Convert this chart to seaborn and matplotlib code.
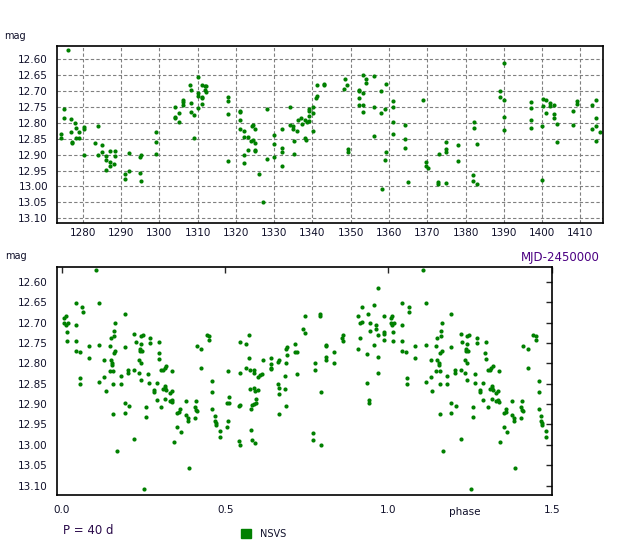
import matplotlib
matplotlib.use('Agg')
import matplotlib.pyplot as plt
import pandas as pd
import seaborn as sns
from matplotlib.patches import Patch
from matplotlib.ticker import MultipleLocator, FormatStrFormatter

# Light curve (MJD-2450000 vs mag)
mjd = [1276.2, 1275.2, 1275.2, 1274.3, 1274.3, 1277.0, 1278.0, 1278.3, 1277.0, 1277.2, 1277.3, 1278.3, 1279.0, 1279.0,
       1280.2, 1280.2, 1280.2, 1284.0, 1283.2, 1284.0, 1285.1, 1285.1, 1286.2, 1286.2, 1287.1, 1288.3, 1288.3, 1287.1,
       1287.1, 1286.2, 1288.2, 1292.2, 1291.0, 1291.0, 1292.2, 1295.2, 1295.0, 1295.0, 1295.3, 1299.2, 1299.2, 1299.1,
       1304.2, 1304.2, 1304.2, 1305.2, 1305.1, 1306.2, 1306.1, 1306.1, 1308.1, 1308.3, 1308.3, 1308.2, 1309.0, 1309.0,
       1310.1, 1311.1, 1312.0, 1312.2, 1312.0, 1312.2, 1310.1, 1310.1, 1311.1, 1311.2, 1311.2, 1310.1, 1317.9, 1317.9,
       1317.9, 1317.9, 1321.0, 1321.0, 1321.0, 1321.1, 1322.2, 1322.1, 1323.1, 1324.1, 1324.4, 1325.0, 1324.0, 1324.4,
       1325.0, 1323.1, 1325.0, 1325.0, 1322.2, 1322.2, 1326.0, 1328.2, 1328.2, 1330.0, 1330.0, 1330.0, 1327.1, 1332.1,
       1332.1, 1332.1, 1332.0, 1334.2, 1334.2, 1335.0, 1335.0, 1335.9, 1335.2, 1335.2, 1336.3, 1337.0, 1337.2, 1338.1,
       1338.5, 1339.1, 1339.1, 1339.1, 1339.1, 1338.1, 1338.3, 1340.2, 1340.2, 1340.2, 1341.1, 1340.9, 1341.2, 1343.0,
       1343.1, 1348.4, 1348.3, 1349.1, 1349.3, 1349.3, 1353.2, 1354.0, 1354.0, 1352.2, 1352.2, 1353.2, 1352.2, 1352.2,
       1353.2, 1353.2, 1356.1, 1357.9, 1359.2, 1356.1, 1357.9, 1358.9, 1356.1, 1359.2, 1358.9, 1358.1, 1361.0, 1361.0,
       1361.0, 1361.0, 1364.1, 1364.1, 1364.1, 1364.9, 1369.0, 1369.8, 1369.8, 1370.1, 1373.0, 1372.9, 1372.9, 1375.0,
       1375.0, 1375.0, 1375.0, 1377.9, 1377.9, 1382.3, 1382.3, 1383.0, 1382.0, 1382.0, 1383.0, 1390.1, 1389.0, 1389.0,
       1390.1, 1390.1, 1390.1, 1397.1, 1397.1, 1397.1, 1397.1, 1400.3, 1401.0, 1400.3, 1402.1, 1402.1, 1403.1, 1401.0,
       1403.1, 1403.1, 1403.9, 1400.0, 1403.9, 1400.0, 1408.1, 1408.1, 1409.1, 1409.1, 1414.1, 1413.0, 1414.1, 1414.1,
       1413.0, 1415.1, 1414.1]
mjd_mag = [12.571, 12.755, 12.783, 12.834, 12.847, 12.788, 12.800, 12.815, 12.830, 12.861, 12.864, 12.847, 12.827, 12.847,
           12.812, 12.819, 12.901, 12.811, 12.862, 12.902, 12.868, 12.890, 12.905, 12.917, 12.887, 12.887, 12.903, 12.923,
           12.936, 12.949, 12.930, 12.894, 12.961, 12.977, 12.952, 12.900, 12.908, 12.958, 12.983, 12.828, 12.859, 12.899,
           12.751, 12.782, 12.786, 12.768, 12.797, 12.728, 12.735, 12.744, 12.680, 12.697, 12.738, 12.766, 12.774, 12.847,
           12.655, 12.680, 12.683, 12.685, 12.697, 12.702, 12.705, 12.715, 12.718, 12.723, 12.740, 12.752, 12.719, 12.731,
           12.771, 12.921, 12.762, 12.767, 12.790, 12.818, 12.825, 12.843, 12.843, 12.810, 12.807, 12.819, 12.858, 12.853,
           12.862, 12.884, 12.884, 12.889, 12.902, 12.927, 12.961, 12.755, 12.912, 12.839, 12.865, 12.908, 13.049, 12.818,
           12.878, 12.893, 12.936, 12.749, 12.805, 12.811, 12.818, 12.825, 12.858, 12.899, 12.790, 12.784, 12.803, 12.792,
           12.796, 12.795, 12.756, 12.761, 12.777, 12.848, 12.855, 12.749, 12.769, 12.824, 12.716, 12.722, 12.680, 12.676,
           12.680, 12.661, 12.693, 12.680, 12.883, 12.893, 12.649, 12.661, 12.674, 12.697, 12.700, 12.705, 12.721, 12.743,
           12.743, 12.765, 12.652, 12.699, 12.677, 12.751, 12.768, 12.755, 12.840, 12.893, 12.918, 13.008, 12.730, 12.749,
           12.796, 12.836, 12.808, 12.852, 12.880, 12.986, 12.727, 12.924, 12.936, 12.943, 12.899, 12.986, 12.993, 12.861,
           12.883, 12.893, 12.990, 12.871, 12.921, 12.796, 12.815, 12.865, 12.965, 12.983, 12.993, 12.611, 12.699, 12.718,
           12.727, 12.780, 12.821, 12.733, 12.752, 12.790, 12.815, 12.724, 12.727, 12.746, 12.736, 12.746, 12.743, 12.768,
           12.771, 12.786, 12.802, 12.811, 12.861, 12.981, 12.761, 12.808, 12.730, 12.740, 12.727, 12.743, 12.783, 12.811,
           12.818, 12.830, 12.858]

# Phase diagram (P = 40 d), phases 0..1
phase = [0.106, 0.008, 0.012, 0.007, 0.012, 0.018, 0.015, 0.015, 0.043, 0.043, 0.042, 0.042, 0.055, 0.063, 0.064, 0.057,
         0.057, 0.082, 0.082, 0.115, 0.115, 0.115, 0.129, 0.129, 0.134, 0.146, 0.149, 0.149, 0.146, 0.155, 0.155, 0.158,
         0.158, 0.158, 0.161, 0.161, 0.164, 0.159, 0.164, 0.168, 0.180, 0.180, 0.192, 0.192, 0.192, 0.192, 0.207, 0.204,
         0.204, 0.222, 0.226, 0.222, 0.222, 0.238, 0.238, 0.241, 0.247, 0.241, 0.245, 0.235, 0.241, 0.235, 0.241, 0.253,
         0.259, 0.259, 0.265, 0.266, 0.271, 0.271, 0.281, 0.281, 0.290, 0.290, 0.296, 0.299, 0.299, 0.305, 0.311, 0.315,
         0.320, 0.305, 0.311, 0.317, 0.317, 0.320, 0.317, 0.330, 0.330, 0.336, 0.336, 0.338, 0.338,
         0.343, 0.354, 0.364, 0.354, 0.360, 0.361, 0.379, 0.379, 0.385, 0.385, 0.388, 0.407, 0.410, 0.410, 0.413, 0.407,
         0.413, 0.426, 0.426, 0.443, 0.452, 0.452, 0.461, 0.461, 0.461, 0.468, 0.468, 0.471, 0.471, 0.483, 0.483, 0.507,
         0.513, 0.513, 0.510, 0.510, 0.507, 0.541, 0.547, 0.547, 0.541, 0.547, 0.547, 0.563, 0.572, 0.572, 0.563, 0.575,
         0.587, 0.587, 0.575, 0.589, 0.593, 0.602, 0.596, 0.596, 0.589, 0.583, 0.580, 0.580, 0.583, 0.593, 0.602, 0.608,
         0.612, 0.617, 0.639, 0.642, 0.639, 0.642, 0.663, 0.666, 0.663, 0.666, 0.666, 0.666, 0.682, 0.682, 0.685, 0.687,
         0.687, 0.690, 0.690,
         0.714, 0.714, 0.720, 0.720, 0.738, 0.744, 0.744, 0.768, 0.768, 0.774, 0.774, 0.789, 0.792, 0.795, 0.795, 0.808,
         0.810, 0.808, 0.810, 0.832, 0.832, 0.862, 0.859, 0.862, 0.908, 0.912, 0.918, 0.919, 0.912, 0.908, 0.933, 0.933,
         0.942, 0.942, 0.939, 0.945, 0.945, 0.957, 0.963, 0.963, 0.957, 0.969, 0.969, 0.969, 0.969, 0.985, 0.985, 0.988,
         0.988]
phase_mag = [12.572, 12.690, 12.685, 12.700, 12.705, 12.701, 12.722, 12.744, 12.651, 12.707, 12.744, 12.769, 12.772, 12.663,
             12.675, 12.835, 12.850, 12.757, 12.786, 12.653, 12.754, 12.845, 12.791, 12.833, 12.867, 12.757, 12.737, 12.791,
             12.818, 12.800, 12.805, 12.818, 12.850, 12.924, 12.720, 12.734, 12.700, 12.774, 12.769, 13.015, 12.830, 12.850,
             12.680, 12.759, 12.897, 12.921, 12.905, 12.816, 12.823, 12.727, 12.747, 12.816, 12.985, 12.764, 12.769, 12.732,
             12.730, 12.752, 12.770, 12.791, 12.798, 12.823, 12.840, 13.108, 12.907, 12.931, 12.825, 12.848, 12.739, 12.749,
             12.865, 12.870, 12.848, 12.889, 12.774, 12.747, 12.789, 12.816, 12.816, 12.811, 12.806, 12.907, 12.862, 12.860,
             12.855, 12.865, 12.887, 12.872, 12.892, 12.867, 12.889, 12.820, 12.894,
             12.993, 12.956, 12.968, 12.921, 12.919, 12.911, 12.892, 12.926, 12.934, 12.941, 13.057, 12.907, 12.914, 12.892,
             12.916, 12.934, 12.757, 12.764, 12.811, 12.730, 12.732, 12.742, 12.843, 12.870, 12.911, 12.929, 12.941, 12.946,
             12.951, 12.966, 12.980, 12.897, 12.897, 12.882, 12.820, 12.941, 12.956, 12.904, 12.902, 12.823, 12.990, 13.000,
             12.747, 12.752, 12.730, 12.786, 12.811, 12.816, 12.816, 12.823, 12.862, 12.860, 12.867, 12.865, 12.887, 12.897,
             12.899, 12.902, 12.911, 12.963, 12.988, 12.995, 12.833, 12.828, 12.825, 12.793, 12.786, 12.802, 12.811, 12.813,
             12.796, 12.793, 12.850, 12.860, 12.875, 12.924, 12.830, 12.862, 12.904, 12.798, 12.766, 12.759, 12.779,
             12.752, 12.771, 12.771, 12.825, 12.717, 12.725, 12.683, 12.970, 12.988, 12.800, 12.816, 12.680, 12.685, 12.870,
             13.000, 12.754, 12.757, 12.784, 12.791, 12.771, 12.798, 12.730, 12.737, 12.744, 12.683, 12.700, 12.698, 12.663,
             12.739, 12.766, 12.776, 12.848, 12.889, 12.897, 12.680, 12.702, 12.720, 12.658, 12.707, 12.717, 12.754, 12.730,
             12.784, 12.823, 12.614, 12.722, 12.727, 12.683, 12.742]

mag_ticks = [12.60, 12.65, 12.70, 12.75, 12.80, 12.85, 12.90, 12.95, 13.00, 13.05, 13.10]
mjd_ticks = list(range(1280, 1420, 10))
phase_ticks = [0.0, 0.5, 1.0, 1.5]

GREEN = '#008000'

sns.set_style('white')
plt.rcParams['font.family'] = ['DejaVu Sans']

df_lc = pd.DataFrame({'mjd': mjd, 'mag': mjd_mag})
df_ph = pd.DataFrame({'phase': phase, 'mag': phase_mag})
# phases below 0.5 are repeated one cycle later, out to phase 1.5
df_ph = pd.concat([df_ph, df_ph[df_ph.phase < 0.5].assign(phase=lambda d: d.phase + 1)], ignore_index=True)

fig = plt.figure(figsize=(6.24, 5.42), dpi=100)

# Top panel: light curve
ax1 = fig.add_axes([0.0909, 0.588, 0.876, 0.327])
sns.scatterplot(ax=ax1, data=df_lc, x='mjd', y='mag', color=GREEN, s=9, linewidth=0, legend=False)
ax1.set_xlim(1273.2, 1416.0)
ax1.set_ylim(13.116, 12.558)
ax1.set_xticks(mjd_ticks)
ax1.set_yticks(mag_ticks)
ax1.yaxis.set_major_formatter(FormatStrFormatter('%.2f'))
ax1.grid(True, color='#808080', linestyle=(0, (3, 2)), linewidth=0.8)
ax1.tick_params(length=0, labelsize=7.5, colors='#10102a')
ax1.tick_params(axis='y', pad=6.3)
ax1.tick_params(axis='x', pad=3.5)
ax1.set_xlabel('')
ax1.set_ylabel('')
for sp in ax1.spines.values():
    sp.set_color('black')
    sp.set_linewidth(1.2)

# Bottom panel: phase diagram
ax2 = fig.add_axes([0.0918, 0.0867, 0.7923, 0.4212])
sns.scatterplot(ax=ax2, data=df_ph, x='phase', y='mag', color=GREEN, s=9, linewidth=0, legend=False)
ax2.set_xlim(-0.014, 1.5)
ax2.set_ylim(13.123, 12.563)
ax2.set_xticks(phase_ticks)
ax2.set_yticks(mag_ticks)
ax2.xaxis.set_major_formatter(FormatStrFormatter('%.1f'))
ax2.yaxis.set_major_formatter(FormatStrFormatter('%.2f'))
ax2.tick_params(direction='in', length=4, width=1, top=True, right=True,
                labelsize=7.5, labelcolor='#10102a')
ax2.tick_params(axis='y', pad=6.9)
ax2.tick_params(axis='x', pad=7.5)
ax2.set_xlabel('')
ax2.set_ylabel('')
for sp in ax2.spines.values():
    sp.set_color('black')
    sp.set_linewidth(1.2)

# Labels
fig.text(0.0064, 0.9336, 'mag', fontsize=7, ha='left', va='center', color='#10102a')
fig.text(0.008, 0.5277, 'mag', fontsize=7, ha='left', va='center', color='#10102a')
fig.text(0.9615, 0.525, 'MJD-2450000', fontsize=8.5, ha='right', va='center', color='#4b0082')
fig.text(0.745, 0.0553, 'phase', fontsize=7.5, ha='center', va='center', color='#10102a')
fig.text(0.101, 0.0221, 'P = 40 d', fontsize=8.5, ha='left', va='center', color='#2a0a4a')

fig.legend(handles=[Patch(facecolor=GREEN, edgecolor=GREEN, label='NSVS')],
           loc='center left', bbox_to_anchor=(0.3857, 0.0148), frameon=False,
           fontsize=7, handlelength=1.05, handleheight=1.05, handletextpad=0.9,
           borderpad=0, borderaxespad=0, labelcolor='#10102a')

fig.savefig('out.png', dpi=100)
